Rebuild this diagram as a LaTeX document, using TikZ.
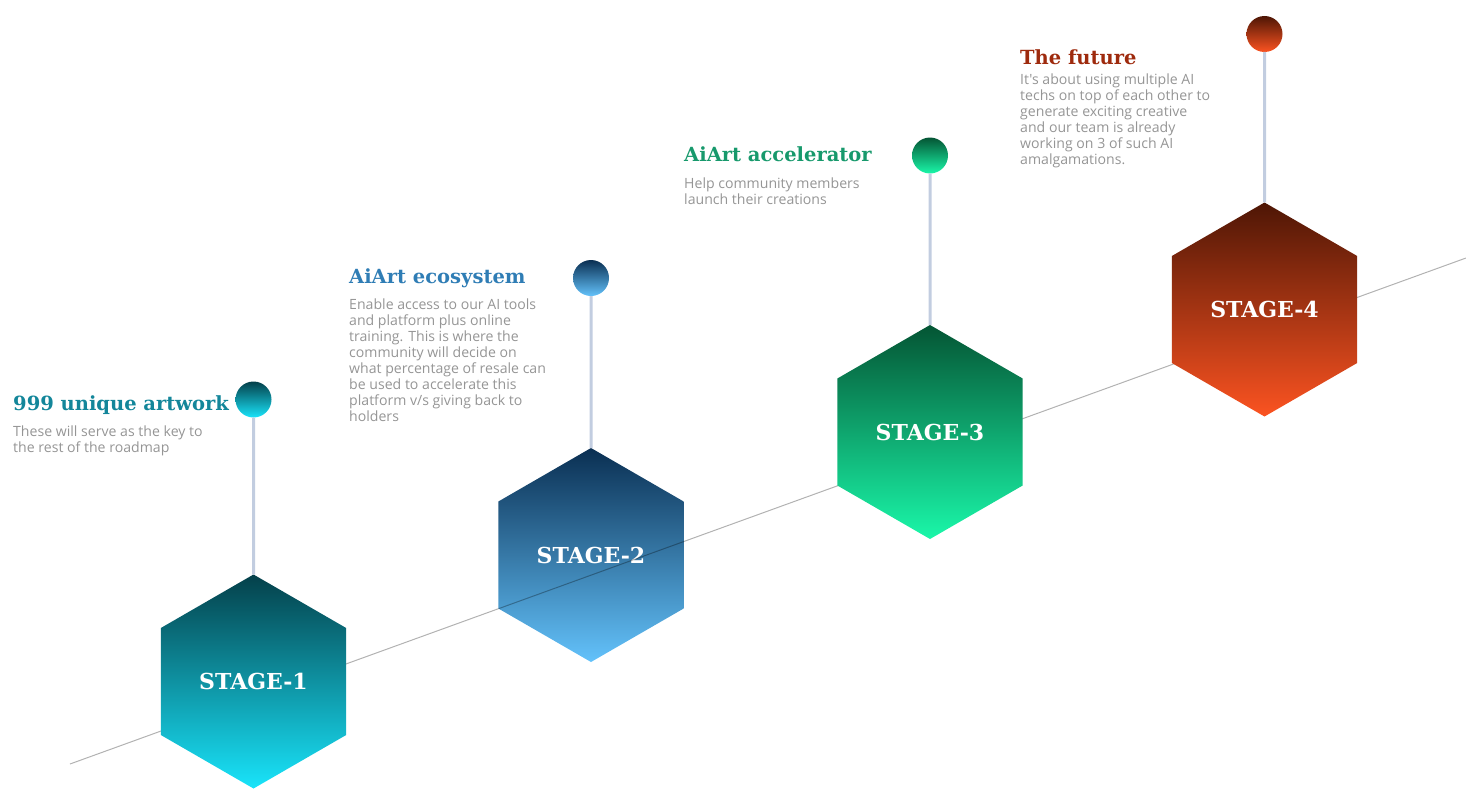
\documentclass[tikz,border=0pt]{standalone}
\usepackage{fontspec}
\setmainfont{Liberation Serif}
\newfontfamily\titular{DejaVu Serif}
\newfontfamily\cuerpo{Open Sans}
\usetikzlibrary{shapes.geometric}

\definecolor{tealosc}{HTML}{04404A}
\definecolor{tealcla}{HTML}{19E4FA}
\definecolor{azulosc}{HTML}{0A2F52}
\definecolor{azulcla}{HTML}{63C2FB}
\definecolor{verdeosc}{HTML}{045534}
\definecolor{verdecla}{HTML}{1AF7A9}
\definecolor{rojoosc}{HTML}{4E1605}
\definecolor{rojocla}{HTML}{FB5321}
\definecolor{titteal}{HTML}{13869A}
\definecolor{titazul}{HTML}{2F7DB5}
\definecolor{titverde}{HTML}{17996C}
\definecolor{titrojo}{HTML}{9E2A0D}
\definecolor{gristexto}{HTML}{959595}
\definecolor{azulposte}{HTML}{C2CDE0}

\begin{document}
\begin{tikzpicture}[
      x=1pt, y=-1pt,
      etapa/.style={regular polygon, regular polygon sides=6, shape border rotate=30,
                    minimum size=214pt, inner sep=0pt, outer sep=0pt, text=white,
                    font=\titular\fontsize{22}{26}\selectfont\bfseries},
      bola/.style={circle, minimum size=36pt, inner sep=0pt, outer sep=0pt},
      titulo/.style={anchor=base west, inner sep=0pt,
                     font=\titular\fontsize{19.5}{24}\selectfont\bfseries},
      texto/.style={anchor=north west, inner sep=0pt, align=left, text=gristexto,
                    font=\cuerpo\fontsize{14.1}{16}\selectfont},
      poste/.style={draw=azulposte, line width=3pt},
      eje/.style={draw=black, opacity=0.3, line width=1pt}
    ]
    \useasboundingbox (0,0) rectangle (1466,808);

    \node[etapa, top color=azulosc, bottom color=azulcla] (s2) at (591,555) {STAGE-2};

    \coordinate (ini) at (70,764);
    \coordinate (fin) at (1466,258);
    \draw[eje] (ini) -- (fin);

    \node[etapa, top color=tealosc, bottom color=tealcla] (s1) at (253.5,681.5) {STAGE-1};
    \node[etapa, top color=verdeosc, bottom color=verdecla] (s3) at (930,432) {STAGE-3};
    \node[etapa, top color=rojoosc, bottom color=rojocla] (s4) at (1264.5,309.5) {STAGE-4};

    \node[bola, top color=tealosc, bottom color=tealcla] (b1) at (253.5,399.5) {};
    \node[bola, top color=azulosc, bottom color=azulcla] (b2) at (591,278) {};
    \node[bola, top color=verdeosc, bottom color=verdecla] (b3) at (930,155.5) {};
    \node[bola, top color=rojoosc, bottom color=rojocla] (b4) at (1264.5,34) {};

    \draw[poste] (b1.south) -- (s1.north);
    \draw[poste] (b2.south) -- (s2.north);
    \draw[poste] (b3.south) -- (s3.north);
    \draw[poste] (b4.south) -- (s4.north);

    \node[titulo, text=titteal] (t1) at (13,410) {999 unique artwork};
    \node[texto] (d1) at (13,426)
      {These will serve as the key to\\ the rest of the roadmap};

    \node[titulo, text=titazul] (t2) at (349,283) {AiArt ecosystem};
    \node[texto] (d2) at (349,299)
      {Enable access to our AI tools\\ and platform plus online\\ training. This is where the\\
       community will decide on\\ what percentage of resale can\\ be used to accelerate this\\
       platform v/s giving back to\\ holders};

    \node[titulo, text=titverde] (t3) at (684,161) {AiArt accelerator};
    \node[texto] (d3) at (684,178)
      {Help community members\\ launch their creations};

    \node[titulo, text=titrojo] (t4) at (1020,64) {The future};
    \node[texto] (d4) at (1020,74)
      {It's about using multiple AI\\ techs on top of each other to\\ generate exciting creative\\
       and our team is already\\ working on 3 of such AI\\ amalgamations.};
  \end{tikzpicture}
\end{document}
